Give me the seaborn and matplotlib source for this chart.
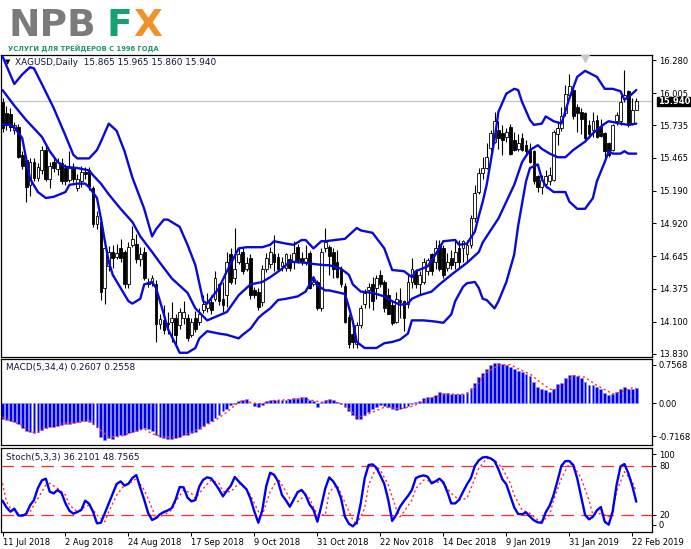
import matplotlib
matplotlib.use("Agg")
import matplotlib.pyplot as plt
import matplotlib.transforms as mtransforms
import numpy as np
import pandas as pd
import seaborn as sns

sns.set_style("white")
plt.rcParams["font.family"] = ["DejaVu Sans"]

# ==========================
# XAGUSD daily bars
# ==========================
opens = [15.93, 15.84, 15.83, 15.70, 15.72, 15.49, 15.45, 15.24, 15.43, 15.30,
         15.36, 15.53, 15.29, 15.43, 15.37, 15.42, 15.38, 15.28, 15.38, 15.21,
         15.27, 15.35, 15.36, 15.21, 14.91, 14.93, 14.38, 14.56, 14.68, 14.64,
         14.71, 14.68, 14.41, 14.74, 14.75, 14.62, 14.68, 14.43, 14.42, 14.41,
         14.08, 14.11, 14.09, 14.10, 14.13, 14.07, 14.13, 14.13, 13.99, 14.13,
         14.10, 14.20, 14.21, 14.26, 14.29, 14.41, 14.29, 14.32, 14.66, 14.46,
         14.60, 14.68, 14.54, 14.63, 14.36, 14.35, 14.26, 14.54, 14.58, 14.66,
         14.64, 14.56, 14.55, 14.62, 14.60, 14.72, 14.63, 14.60, 14.67, 14.41,
         14.43, 14.21, 14.71, 14.72, 14.68, 14.60, 14.54, 14.40, 14.14, 14.00,
         13.91, 14.07, 14.25, 14.36, 14.41, 14.38, 14.49, 14.43, 14.32, 14.24,
         14.10, 14.28, 14.27, 14.25, 14.43, 14.52, 14.41, 14.43, 14.52, 14.66,
         14.60, 14.74, 14.71, 14.55, 14.63, 14.60, 14.71, 14.71, 14.66, 14.74,
         14.96, 15.18, 15.34, 15.38, 15.55, 15.60, 15.70, 15.67, 15.64, 15.72,
         15.61, 15.54, 15.63, 15.57, 15.54, 15.52, 15.31, 15.22, 15.25, 15.27,
         15.28, 15.66, 15.71, 15.84, 15.99, 16.03, 15.89, 15.85, 15.84, 15.74,
         15.70, 15.78, 15.72, 15.67, 15.59, 15.53, 15.77, 15.77, 15.96, 16.02,
         15.75, 15.865]
highs = [15.96, 15.90, 15.88, 15.76, 15.75, 15.52, 15.47, 15.46, 15.46, 15.42,
         15.56, 15.57, 15.43, 15.46, 15.46, 15.46, 15.41, 15.52, 15.42, 15.33,
         15.40, 15.39, 15.39, 15.23, 15.02, 14.96, 14.73, 14.73, 14.74, 14.75,
         14.79, 14.70, 14.76, 14.90, 14.83, 14.72, 14.72, 14.46, 14.49, 14.45,
         14.16, 14.24, 14.18, 14.26, 14.16, 14.21, 14.27, 14.16, 14.13, 14.19,
         14.21, 14.32, 14.34, 14.32, 14.52, 14.42, 14.43, 14.68, 14.71, 14.88,
         14.71, 14.72, 14.64, 14.66, 14.39, 14.38, 14.57, 14.67, 14.72, 14.82,
         14.67, 14.64, 14.67, 14.66, 14.77, 14.75, 14.68, 14.74, 14.69, 14.47,
         14.45, 14.71, 14.88, 14.74, 14.71, 14.70, 14.56, 14.42, 14.16, 14.06,
         14.10, 14.24, 14.37, 14.42, 14.47, 14.49, 14.53, 14.45, 14.38, 14.27,
         14.35, 14.38, 14.28, 14.49, 14.63, 14.54, 14.52, 14.63, 14.63, 14.67,
         14.78, 14.78, 14.74, 14.67, 14.70, 14.79, 14.78, 14.78, 14.78, 14.99,
         15.24, 15.38, 15.47, 15.59, 15.70, 15.85, 15.77, 15.74, 15.71, 15.75,
         15.68, 15.66, 15.67, 15.61, 15.59, 15.53, 15.32, 15.32, 15.36, 15.39,
         15.70, 15.77, 15.89, 16.07, 16.16, 16.06, 15.91, 15.88, 15.85, 15.78,
         15.85, 15.82, 15.79, 15.68, 15.60, 15.75, 15.85, 15.99, 16.20, 16.03,
         15.96, 15.965]
lows = [15.68, 15.70, 15.69, 15.66, 15.46, 15.37, 15.10, 15.15, 15.27, 15.27,
        15.33, 15.27, 15.21, 15.35, 15.32, 15.25, 15.24, 15.26, 15.26, 15.19,
        15.22, 15.29, 15.20, 14.89, 14.87, 14.28, 14.25, 14.52, 14.55, 14.62,
        14.60, 14.38, 14.38, 14.72, 14.59, 14.56, 14.45, 14.39, 14.40, 13.93,
        14.04, 14.00, 14.00, 13.93, 13.91, 14.04, 14.08, 13.94, 13.97, 14.01,
        14.07, 14.17, 14.18, 14.16, 14.27, 14.24, 14.18, 14.22, 14.41, 14.41,
        14.58, 14.50, 14.52, 14.29, 14.30, 14.20, 14.23, 14.51, 14.55, 14.52,
        14.52, 14.52, 14.52, 14.52, 14.54, 14.59, 14.57, 14.57, 14.37, 14.40,
        14.20, 14.19, 14.68, 14.49, 14.46, 14.46, 14.39, 14.09, 13.88, 13.88,
        13.88, 14.05, 14.21, 14.21, 14.20, 14.29, 14.39, 14.18, 14.16, 14.07,
        14.09, 14.13, 14.02, 14.21, 14.38, 14.38, 14.32, 14.41, 14.49, 14.49,
        14.54, 14.52, 14.46, 14.52, 14.54, 14.54, 14.54, 14.60, 14.60, 14.71,
        14.93, 15.16, 15.29, 15.37, 15.52, 15.59, 15.54, 15.49, 15.60, 15.49,
        15.52, 15.52, 15.52, 15.49, 15.42, 15.25, 15.18, 15.16, 15.21, 15.24,
        15.27, 15.57, 15.69, 15.81, 15.96, 15.79, 15.68, 15.66, 15.61, 15.63,
        15.64, 15.63, 15.64, 15.46, 15.47, 15.52, 15.74, 15.74, 15.93, 15.72,
        15.74, 15.86]
closes = [15.71, 15.74, 15.72, 15.74, 15.47, 15.40, 15.22, 15.43, 15.30, 15.39,
          15.53, 15.29, 15.40, 15.38, 15.43, 15.27, 15.27, 15.38, 15.29, 15.29,
          15.35, 15.33, 15.23, 14.91, 14.98, 14.35, 14.71, 14.68, 14.63, 14.67,
          14.63, 14.41, 14.72, 14.79, 14.62, 14.66, 14.46, 14.41, 14.46, 14.08,
          14.12, 14.03, 14.08, 14.13, 13.99, 14.18, 14.18, 13.96, 14.10, 14.04,
          14.16, 14.25, 14.26, 14.20, 14.46, 14.27, 14.24, 14.60, 14.43, 14.54,
          14.66, 14.52, 14.59, 14.32, 14.32, 14.22, 14.54, 14.63, 14.68, 14.60,
          14.54, 14.60, 14.66, 14.55, 14.67, 14.61, 14.60, 14.63, 14.38, 14.43,
          14.21, 14.68, 14.76, 14.65, 14.54, 14.47, 14.41, 14.10, 13.91, 13.93,
          14.07, 14.21, 14.34, 14.39, 14.27, 14.46, 14.41, 14.21, 14.16, 14.09,
          14.29, 14.26, 14.13, 14.43, 14.54, 14.41, 14.49, 14.60, 14.61, 14.52,
          14.71, 14.54, 14.49, 14.60, 14.57, 14.68, 14.60, 14.77, 14.74, 14.96,
          15.17, 15.34, 15.38, 15.47, 15.67, 15.77, 15.63, 15.61, 15.68, 15.50,
          15.53, 15.59, 15.53, 15.52, 15.43, 15.27, 15.22, 15.28, 15.31, 15.32,
          15.68, 15.71, 15.81, 16.00, 16.06, 15.81, 15.84, 15.79, 15.63, 15.66,
          15.77, 15.64, 15.65, 15.52, 15.49, 15.74, 15.82, 15.93, 15.99, 15.74,
          15.86, 15.94]

# ==========================
# Bollinger bands, read at selected bars
# ==========================
bb_upper_idx = [0, 3, 5, 7, 8, 10, 13, 16, 18, 19, 22, 24, 25, 27, 29, 31, 33, 36, 38, 39,
                41, 42, 45, 47, 49, 51, 52, 55, 57, 60, 62, 66, 68, 69, 72, 74, 76, 77, 79, 81,
                82, 87, 90, 91, 94, 97, 99, 102, 104, 105, 108, 110, 112, 115, 116, 118, 120, 121, 122, 123,
                125, 126, 128, 130, 131, 132, 134, 135, 137, 138, 140, 142, 144, 146, 148, 151, 153, 155, 157, 158,
                159, 161]
bb_upper = [16.31, 16.08, 16.16, 16.22, 16.21, 16.08, 15.88, 15.65, 15.49, 15.46, 15.46, 15.53, 15.60, 15.75, 15.69, 15.52, 15.30, 15.04, 14.81, 14.87,
            14.95, 14.95, 14.89, 14.74, 14.57, 14.27, 14.25, 14.38, 14.52, 14.71, 14.72, 14.72, 14.74, 14.77, 14.75, 14.74, 14.78, 14.78, 14.71, 14.77,
            14.77, 14.79, 14.88, 14.86, 14.84, 14.71, 14.53, 14.52, 14.47, 14.52, 14.56, 14.66, 14.77, 14.78, 14.74, 14.75, 14.85, 14.98, 15.10, 15.24,
            15.62, 15.85, 16.00, 16.04, 16.03, 15.93, 15.78, 15.74, 15.75, 15.81, 15.77, 15.75, 15.96, 16.14, 16.19, 16.14, 16.04, 16.04, 16.02, 15.95,
            15.97, 16.03]
bb_mid_idx = [0, 3, 6, 10, 12, 14, 16, 19, 22, 23, 25, 27, 30, 33, 35, 38, 40, 43, 47, 49,
              52, 57, 60, 63, 66, 68, 71, 73, 77, 79, 82, 83, 86, 88, 89, 91, 94, 97, 99, 101,
              103, 104, 106, 109, 111, 114, 116, 118, 121, 122, 126, 130, 132, 134, 136, 137, 139, 141, 143, 145,
              148, 150, 153, 154, 157, 159, 161]
bb_mid = [16.03, 15.90, 15.78, 15.64, 15.52, 15.43, 15.39, 15.38, 15.36, 15.32, 15.25, 15.16, 15.04, 14.93, 14.81, 14.68, 14.59, 14.46, 14.34, 14.21,
          14.11, 14.18, 14.32, 14.41, 14.43, 14.47, 14.54, 14.60, 14.59, 14.58, 14.57, 14.57, 14.54, 14.49, 14.41, 14.35, 14.34, 14.31, 14.27, 14.24,
          14.25, 14.29, 14.32, 14.35, 14.41, 14.49, 14.54, 14.59, 14.68, 14.76, 14.96, 15.24, 15.43, 15.53, 15.57, 15.54, 15.50, 15.47, 15.47, 15.53,
          15.60, 15.67, 15.75, 15.77, 15.75, 15.74, 15.75]
bb_lower_idx = [0, 2, 3, 5, 6, 7, 9, 11, 13, 16, 17, 19, 21, 22, 24, 25, 26, 27, 28, 30,
                32, 33, 35, 36, 38, 39, 41, 42, 44, 45, 47, 49, 50, 52, 55, 57, 60, 61, 63, 65,
                66, 68, 70, 72, 75, 77, 79, 80, 82, 83, 87, 88, 89, 90, 92, 95, 97, 99, 101, 103,
                104, 107, 110, 112, 114, 115, 117, 118, 120, 121, 122, 123, 125, 126, 128, 130, 131, 133, 134, 136,
                137, 138, 140, 143, 144, 146, 148, 150, 151, 153, 154, 155, 157, 158, 159, 161]
bb_lower = [15.74, 15.74, 15.72, 15.63, 15.46, 15.29, 15.18, 15.13, 15.14, 15.18, 15.24, 15.25, 15.25, 15.22, 15.13, 14.96, 14.77, 14.60, 14.49, 14.38,
            14.27, 14.25, 14.29, 14.41, 14.43, 14.38, 14.16, 14.04, 13.91, 13.84, 13.84, 13.88, 13.96, 14.02, 14.00, 13.99, 13.96, 13.99, 14.04, 14.13,
            14.16, 14.21, 14.28, 14.29, 14.31, 14.35, 14.47, 14.40, 14.36, 14.36, 14.33, 14.22, 14.10, 13.93, 13.88, 13.88, 13.92, 13.93, 13.95, 14.00,
            14.11, 14.11, 14.10, 14.09, 14.16, 14.27, 14.39, 14.42, 14.43, 14.38, 14.29, 14.28, 14.21, 14.27, 14.43, 14.66, 14.90, 15.27, 15.38, 15.41,
            15.29, 15.23, 15.18, 15.18, 15.10, 15.04, 15.04, 15.13, 15.27, 15.43, 15.52, 15.50, 15.50, 15.52, 15.50, 15.50]

# ==========================
# MACD(5,34,4)
# ==========================
macd_main = [-0.268, -0.285, -0.297, -0.325, -0.365, -0.422, -0.485, -0.497, -0.508, -0.497,
             -0.457, -0.434, -0.411, -0.400, -0.388, -0.371, -0.360, -0.354, -0.337, -0.325,
             -0.303, -0.297, -0.325, -0.365, -0.411, -0.582, -0.639, -0.594, -0.611, -0.565,
             -0.554, -0.537, -0.514, -0.491, -0.479, -0.445, -0.422, -0.440, -0.479, -0.537,
             -0.582, -0.605, -0.616, -0.611, -0.605, -0.582, -0.554, -0.537, -0.514, -0.491,
             -0.445, -0.388, -0.342, -0.297, -0.257, -0.211, -0.137, -0.103, -0.023, -0.011,
             0.034, 0.046, 0.063, -0.005, -0.040, -0.068, -0.023, 0.034, 0.057, 0.057,
             0.057, 0.057, 0.057, 0.068, 0.097, 0.097, 0.103, 0.103, 0.057, 0.029,
             -0.068, 0.017, 0.046, 0.063, 0.046, 0.017, -0.011, -0.068, -0.137, -0.211,
             -0.274, -0.263, -0.200, -0.143, -0.108, -0.068, -0.029, -0.040, -0.068, -0.097,
             -0.120, -0.108, -0.080, -0.051, -0.017, 0.017, 0.040, 0.086, 0.103, 0.103,
             0.148, 0.183, 0.166, 0.171, 0.160, 0.160, 0.160, 0.160, 0.183, 0.263,
             0.348, 0.445, 0.519, 0.588, 0.656, 0.696, 0.691, 0.674, 0.662, 0.628,
             0.582, 0.559, 0.537, 0.508, 0.462, 0.360, 0.285, 0.251, 0.223, 0.194,
             0.251, 0.320, 0.354, 0.434, 0.491, 0.479, 0.462, 0.428, 0.371, 0.314,
             0.303, 0.280, 0.251, 0.171, 0.137, 0.154, 0.183, 0.240, 0.285, 0.251,
             0.251, 0.2607]
macd_sig_idx = [0, 2, 5, 7, 9, 12, 16, 20, 22, 23, 25, 27, 30, 33, 36, 38, 41, 44, 47, 50,
                54, 57, 60, 61, 64, 66, 69, 72, 76, 78, 81, 83, 86, 88, 90, 92, 95, 97, 101, 104,
                107, 109, 113, 116, 118, 121, 123, 126, 129, 131, 134, 136, 139, 140, 143, 145, 148, 151, 155, 157,
                160, 161]
macd_sig = [-0.240, -0.297, -0.382, -0.497, -0.497, -0.400, -0.342, -0.325, -0.297, -0.354, -0.468, -0.582, -0.571, -0.497, -0.440, -0.525, -0.582, -0.582, -0.525, -0.440,
            -0.297, -0.154, 0.017, 0.046, 0.000, -0.011, 0.046, 0.057, 0.074, 0.057, 0.017, 0.046, -0.011, -0.100, -0.240, -0.211, -0.126, -0.068, -0.097, -0.057,
            0.029, 0.091, 0.160, 0.148, 0.160, 0.342, 0.531, 0.645, 0.662, 0.588, 0.502, 0.388, 0.245, 0.217, 0.331, 0.474, 0.445, 0.303, 0.160, 0.188,
            0.263, 0.2558]

# ==========================
# Stochastic(5,3,3)
# ==========================
stoch_k = [37.4, 29.3, 24.0, 27.7, 19.5, 19.1, 21.2, 31.7, 38.2, 52.8,
           62.1, 64.2, 48.3, 46.3, 50.4, 46.7, 34.1, 25.2, 21.6, 23.6,
           26.0, 37.4, 33.7, 24.0, 9.8, 10.6, 22.4, 34.1, 46.3, 57.7,
           60.9, 55.7, 58.1, 65.0, 68.6, 53.2, 38.6, 22.4, 13.9, 16.3,
           20.8, 23.6, 25.6, 28.4, 39.0, 54.0, 53.6, 41.1, 36.6, 38.2,
           54.8, 62.9, 65.8, 64.6, 58.1, 51.2, 42.7, 49.6, 55.6, 66.2,
           60.9, 56.0, 51.2, 39.8, 24.0, 10.6, 26.0, 55.2, 71.4, 68.9,
           60.9, 44.3, 37.8, 30.1, 39.0, 47.9, 50.4, 44.3, 32.9, 26.4,
           11.8, 31.3, 52.4, 65.7, 60.9, 53.2, 40.2, 17.9, 9.4, 6.2,
           11.0, 34.1, 64.6, 80.8, 81.6, 77.5, 67.8, 57.7, 38.2, 12.7,
           20.0, 30.1, 37.0, 43.1, 50.4, 64.9, 67.0, 68.2, 66.6, 58.5,
           60.9, 64.2, 59.7, 48.3, 34.1, 34.1, 38.6, 48.3, 57.3, 65.0,
           79.6, 86.5, 90.1, 90.5, 88.9, 85.6, 75.5, 63.3, 57.3, 43.5,
           29.3, 21.2, 20.8, 23.2, 17.9, 13.5, 11.0, 10.6, 23.2, 31.3,
           44.3, 61.7, 80.0, 85.6, 85.6, 80.8, 64.6, 42.3, 20.0, 14.7,
           17.9, 25.6, 29.7, 11.8, 8.2, 24.0, 56.4, 79.2, 82.0, 70.6,
           55.2, 36.21]
stoch_d_idx = [0, 1, 2, 4, 5, 7, 9, 11, 12, 14, 16, 17, 19, 21, 22, 24, 26, 27, 29, 31,
               33, 34, 36, 38, 39, 41, 43, 44, 46, 48, 49, 51, 53, 55, 56, 58, 60, 61, 63, 65,
               66, 68, 70, 71, 73, 75, 77, 78, 80, 82, 83, 85, 87, 89, 90, 92, 93, 95, 96, 98,
               100, 101, 102, 104, 105, 107, 110, 112, 114, 116, 118, 119, 121, 123, 125, 127, 129, 130, 132, 134,
               136, 137, 139, 140, 142, 144, 145, 147, 149, 150, 152, 154, 155, 156, 158, 160, 161]
stoch_d = [58.5, 36.2, 28.1, 22.0, 20.0, 24.0, 40.2, 56.4, 58.5, 52.4, 44.3, 32.1, 24.0, 30.1, 32.1, 20.0, 11.8, 24.0, 44.3, 56.4,
           60.5, 64.6, 50.4, 28.1, 15.9, 20.0, 26.0, 36.2, 50.4, 46.3, 40.2, 52.4, 62.5, 58.5, 48.3, 48.3, 58.5, 56.4, 44.3, 24.0,
           20.0, 48.3, 64.6, 56.4, 40.2, 36.2, 44.3, 40.2, 20.0, 20.0, 48.3, 56.4, 35.0, 13.9, 7.8, 28.1, 56.4, 78.7, 74.7, 56.4,
           28.0, 17.9, 24.0, 38.2, 52.4, 62.5, 60.5, 58.5, 46.3, 38.2, 40.2, 52.4, 76.7, 88.9, 86.9, 76.7, 58.5, 44.3, 26.0, 22.0,
           13.9, 11.8, 20.0, 38.2, 64.6, 82.8, 80.8, 64.6, 38.2, 20.0, 22.0, 17.9, 24.0, 48.3, 72.7, 60.5, 48.76]

date_labels = ["11 Jul 2018", "2 Aug 2018", "24 Aug 2018", "17 Sep 2018", "9 Oct 2018",
               "31 Oct 2018", "22 Nov 2018", "14 Dec 2018", "9 Jan 2019", "31 Jan 2019",
               "22 Feb 2019"]
price_ticks = [16.280, 16.005, 15.735, 15.465, 15.190, 14.920, 14.645, 14.375, 14.100, 13.830]

bars = pd.DataFrame({"open": opens, "high": highs, "low": lows, "close": closes,
                     "macd": macd_main, "k": stoch_k})
bars["idx"] = np.arange(len(bars))

# ==========================
# figure layout (MT4 look)
# ==========================
W, H = 691, 549
fig = plt.figure(figsize=(W / 100, H / 100), dpi=100)
fig.patch.set_facecolor("white")


def panel(top, bottom):
    a = fig.add_axes([0.5 / W, 1 - bottom / H, 651.5 / W, (bottom - top) / H])
    a.set_facecolor("white")
    for s in a.spines.values():
        s.set_color("black")
        s.set_linewidth(0.9)
    a.set_xlim(-0.51, 165)
    a.yaxis.tick_right()
    a.tick_params(axis="y", direction="out", length=3, width=0.7, pad=2,
                  labelsize=6, colors="black")
    a.tick_params(axis="x", bottom=False, labelbottom=False)
    return a


ax = panel(55, 356.5)
ax_macd = panel(359, 445)
ax_st = panel(448, 532)

BLUE = "#0a0ad8"
RED = "#ff2a2a"

# ---- main chart ----
ax.set_ylim(13.809, 16.322)
ax.axhline(closes[-1], color="#c8c8c8", lw=1, zorder=0)

up = bars["close"] >= bars["open"]
ax.vlines(bars["idx"], bars["low"], bars["high"], color="black", lw=0.8, zorder=2)
body_lo = bars[["open", "close"]].min(axis=1)
body_h = (bars["close"] - bars["open"]).abs().clip(lower=0.006)
ax.bar(bars["idx"][up], body_h[up], bottom=body_lo[up], width=0.7,
       color="white", edgecolor="black", linewidth=0.6, zorder=3)
ax.bar(bars["idx"][~up], body_h[~up], bottom=body_lo[~up], width=0.7,
       color="black", edgecolor="black", linewidth=0.6, zorder=3)

for idx, vals in [(bb_upper_idx, bb_upper), (bb_mid_idx, bb_mid), (bb_lower_idx, bb_lower)]:
    sns.lineplot(x=idx, y=vals, ax=ax, color=BLUE, linewidth=1.7, zorder=4)

ax.set_yticks(price_ticks)
ax.set_yticklabels([f"{p:.3f}" for p in price_ticks])
ax.set_xlabel("")
ax.set_ylabel("")

ytrans = mtransforms.blended_transform_factory(ax.transAxes, ax.transData)
ax.text(1.009, closes[-1] - 0.006, f"{closes[-1]:.3f}", transform=ytrans, ha="left", va="center",
        color="white", fontsize=6, fontweight="bold",
        bbox=dict(boxstyle="square,pad=0.05", fc="black", ec="black"), zorder=6)
ax.text(0.011, 0.975, "\u25BC", transform=ax.transAxes, fontsize=5, color="black",
        ha="center", va="center")
ax.text(0.022, 0.975, "XAGUSD,Daily  15.865 15.965 15.860 15.940", transform=ax.transAxes,
        fontsize=6.4, color="#14143c", ha="left", va="center")
ax.plot([148], [16.30], marker="v", color="#c8c8c8", markersize=6, zorder=5)

# ---- MACD ----
ax_macd.set_ylim(-0.7168, 0.7568)
ax_macd.bar(bars["idx"], bars["macd"], width=0.72, color="#0000f0",
            edgecolor="#8c8cff", linewidth=0.4, zorder=2)
sns.lineplot(x=macd_sig_idx, y=macd_sig, ax=ax_macd, color=RED, linewidth=1.0,
             linestyle=(0, (1.5, 2.0)), zorder=3)
ax_macd.set_yticks([0.656, 0.0, -0.563])
ax_macd.set_yticklabels(["0.7568", "0.00", "-0.7168"])
ax_macd.set_xlabel("")
ax_macd.set_ylabel("")
ax_macd.text(0.008, 0.9, "MACD(5,34,4) 0.2607 0.2558", transform=ax_macd.transAxes,
             fontsize=6.4, color="#14143c", ha="left", va="center")

# ---- Stochastic ----
ax_st.set_ylim(-0.7, 101.5)
for lvl in (80, 20):
    ax_st.axhline(lvl, color=RED, lw=0.9, dashes=(10, 6), zorder=1)
sns.lineplot(x=stoch_d_idx, y=stoch_d, ax=ax_st, color=RED, linewidth=1.0,
             linestyle=(0, (1.5, 2.0)), zorder=2)
sns.lineplot(data=bars, x="idx", y="k", ax=ax_st, color="#0000ee", linewidth=1.7, zorder=3)
ax_st.set_yticks([94, 80, 20, 8])
ax_st.set_yticklabels(["100", "80", "20", "0"])
ax_st.set_xlabel("")
ax_st.set_ylabel("")
ax_st.text(0.008, 0.89, "Stoch(5,3,3) 36.2101 48.7565", transform=ax_st.transAxes,
           fontsize=6.4, color="#14143c", ha="left", va="center")
ax_st.set_xticks(range(0, 161, 16))
ax_st.set_xticklabels(date_labels)
ax_st.tick_params(axis="x", bottom=True, labelbottom=True, direction="out", length=3,
                  width=0.7, pad=1.5, labelsize=6, colors="black")
for lbl in ax_st.get_xticklabels():
    lbl.set_horizontalalignment("left")

# ---- logo ----
LOGO_Y = 1 - 36 / H
fig.text(9 / W, LOGO_Y, "NPB", fontsize=27, fontweight="bold", color="#7b7b7b",
         ha="left", va="baseline")
fig.text(106 / W, LOGO_Y, "F", fontsize=27, fontweight="bold", color="#17a070",
         ha="left", va="baseline")
fig.text(133 / W, LOGO_Y, "X", fontsize=27, fontweight="bold", color="#f0912a",
         ha="left", va="baseline")
fig.text(8 / W, 1 - 48.5 / H, "УСЛУГИ ДЛЯ ТРЕЙДЕРОВ С 1996 ГОДА", fontsize=5.4,
         fontweight="bold", fontstretch="condensed", color="#1a9a66", ha="left", va="center")

fig.savefig("out.png", dpi=100)
